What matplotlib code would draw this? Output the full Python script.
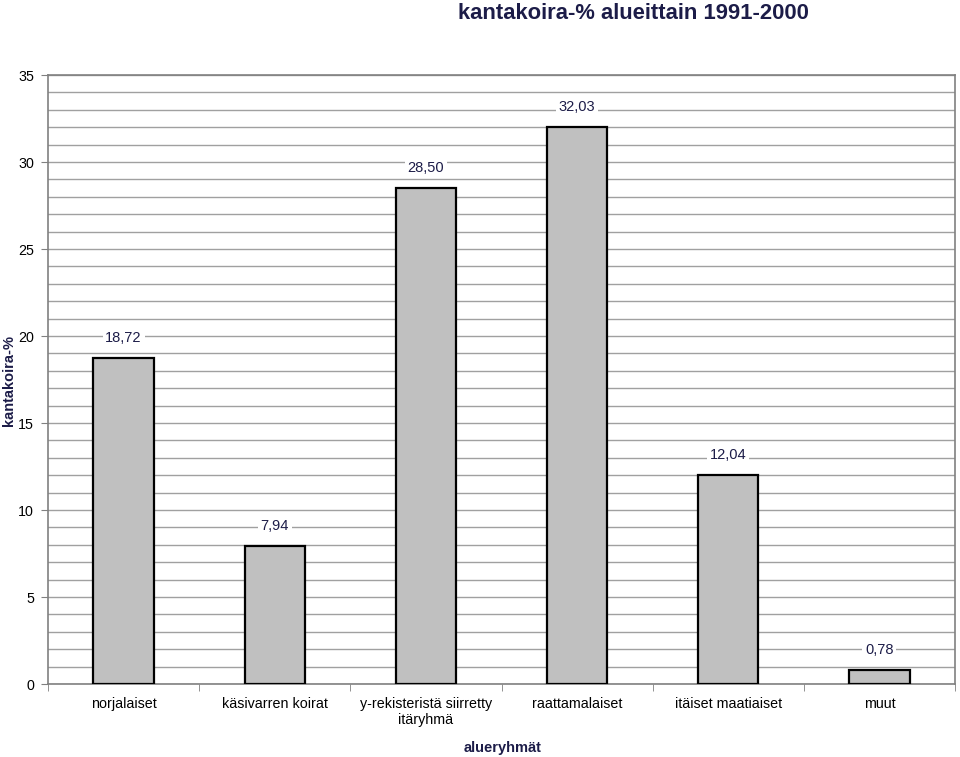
import matplotlib
matplotlib.use("Agg")
import matplotlib.pyplot as plt
from matplotlib.ticker import MultipleLocator
import numpy as np

categories = ["norjalaiset", "käsivarren koirat", "y-rekisteristä siirretty\nitäryhmä",
              "raattamalaiset", "itäiset maatiaiset", "muut"]
values = [18.72, 7.94, 28.50, 32.03, 12.04, 0.78]
value_labels = ["18,72", "7,94", "28,50", "32,03", "12,04", "0,78"]

plt.rcParams['font.family'] = ['Liberation Sans', 'DejaVu Sans']
navy = "#1c1c48"

fig = plt.figure(figsize=(9.6, 7.57), dpi=100)
ax = fig.add_axes([0.05, 0.0964, 0.9448, 0.8045])

x = np.arange(len(categories))
ax.bar(x, values, width=0.4, color="#c0c0c0", edgecolor="black", linewidth=1.6, zorder=3)

for xi, v, lab in zip(x, values, value_labels):
    ax.text(xi, v + 1.15, lab, ha="center", va="center", fontsize=10.5, color=navy, zorder=4,
            bbox=dict(facecolor="white", edgecolor="none", pad=2))

ax.set_xlim(-0.5, len(categories) - 0.5)
ax.set_ylim(0, 35)
ax.yaxis.set_major_locator(MultipleLocator(5))
ax.yaxis.set_minor_locator(MultipleLocator(1))
ax.grid(axis="y", which="both", color="#a0a0a0", linewidth=1.0, zorder=0)
ax.set_xticks(x)
ax.set_xticklabels(categories, fontsize=10.3, color="black", linespacing=1.25)
ax.set_xticks(np.arange(len(categories) + 1) - 0.5, minor=True)
ax.tick_params(axis="x", which="major", length=0, pad=9)
ax.tick_params(axis="x", which="minor", length=5, color="#808080", direction="out")
ax.tick_params(axis="y", which="major", length=5, color="#808080", labelsize=10.3, pad=5)
ax.tick_params(axis="y", which="minor", length=0)
for s in ax.spines.values():
    s.set_color("#808080")
    s.set_linewidth(1.2)

fig.text(0.009, 0.498, "kantakoira-%", rotation=90, ha="center", va="center",
         fontsize=10.5, fontweight="bold", color=navy)
fig.text(0.524, 0.012, "alueryhmät", ha="center", va="center",
         fontsize=10.5, fontweight="bold", color=navy)

fig.text(0.66, 0.982, "kantakoira-% alueittain 1991-2000", ha="center", va="center",
         fontsize=15.8, fontweight="bold", color=navy)

fig.savefig("out.png", dpi=100)
